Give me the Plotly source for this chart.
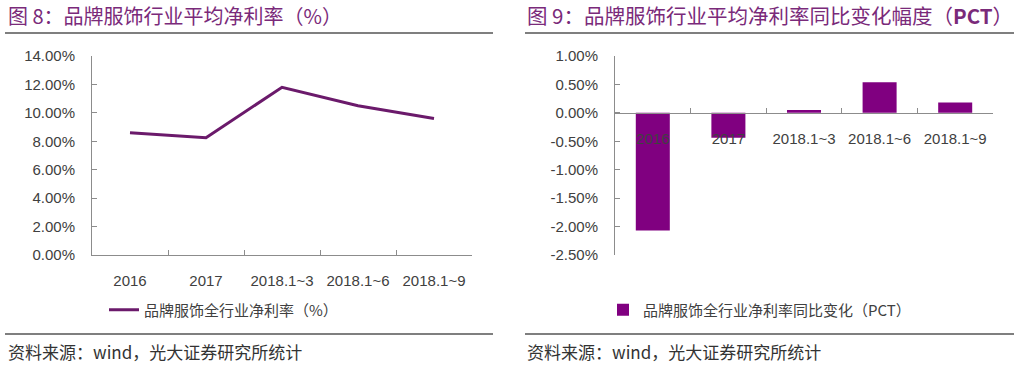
import plotly.graph_objects as go

# ---- data ----
categories = ["2016", "2017", "2018.1~3", "2018.1~6", "2018.1~9"]
net_margin = [8.6, 8.25, 11.8, 10.5, 9.6]          # 品牌服饰全行业净利率（%）
yoy_change = [-2.07, -0.44, 0.05, 0.54, 0.18]      # 同比变化（PCT）
left_ticks = [0, 2, 4, 6, 8, 10, 12, 14]
right_ticks = [-2.5, -2.0, -1.5, -1.0, -0.5, 0.0, 0.5, 1.0]

title_left = "图 8：品牌服饰行业平均净利率（%）"
title_right = "图 9：品牌服饰行业平均净利率同比变化幅度（<b>PCT</b>）"
legend_left = "品牌服饰全行业净利率（%）"
legend_right = "品牌服饰全行业净利率同比变化（PCT）"
source_text = "资料来源：wind，光大证券研究所统计"

# ---- layout helpers ----
W, H = 1024, 368
px = lambda v: v / W
py = lambda v: 1 - v / H

LINE_COLOR = "#6B1A6B"
BAR_COLOR = "#800080"
TITLE_COLOR = "#7A2A7A"
AXIS_COLOR = "#8C8C8C"
TEXT_COLOR = "#404040"
TICK_FONT = dict(family="Liberation Sans, Arial", size=15, color=TEXT_COLOR)
CJK = "Noto Sans CJK SC"

ydom = [py(255), py(56)]
rmin, rmax = right_ticks[0], right_ticks[-1]
zero_pos = ydom[0] + (0 - rmin) / (rmax - rmin) * (ydom[1] - ydom[0])
cat_range = [-0.5, len(categories) - 0.5]

fig = go.Figure()
fig.add_trace(go.Scatter(
    x=categories, y=net_margin, mode="lines", name=legend_left,
    line=dict(color=LINE_COLOR, width=3), xaxis="x", yaxis="y", legend="legend",
))
fig.add_trace(go.Bar(
    x=categories, y=yoy_change, name=legend_right, marker=dict(color=BAR_COLOR, line_width=0),
    xaxis="x2", yaxis="y2", legend="legend2",
))

axis_common = dict(showline=True, linecolor=AXIS_COLOR, linewidth=1, showgrid=False,
                   zeroline=False, ticks="inside", ticklen=5, tickcolor=AXIS_COLOR,
                   tickfont=TICK_FONT, fixedrange=True, automargin=False)

fig.update_layout(
    width=W, height=H, margin=dict(l=0, r=0, t=0, b=0, autoexpand=False),
    paper_bgcolor="white", plot_bgcolor="white",
    bargap=0.55,
    xaxis=dict(domain=[px(92), px(472)], anchor="y", tickson="boundaries",
               range=cat_range, ticklabelstandoff=12, **axis_common),
    yaxis=dict(domain=ydom, anchor="x", range=[left_ticks[0], left_ticks[-1]],
               tickvals=left_ticks, ticktext=[f"{v:.2f}%" for v in left_ticks],
               ticklabelstandoff=13, **axis_common),
    xaxis2=dict(domain=[px(615), px(993)], anchor="free", position=zero_pos,
                tickson="boundaries", range=cat_range, ticklabelstandoff=12, **axis_common),
    yaxis2=dict(domain=ydom, anchor="x2", range=[rmin, rmax],
                tickvals=right_ticks, ticktext=[f"{v:.2f}%" for v in right_ticks],
                ticklabelstandoff=13, **axis_common),
    legend=dict(x=px(104), y=py(310), xanchor="left", yanchor="middle",
                bgcolor="rgba(0,0,0,0)", font=dict(family=CJK, size=15, color=TEXT_COLOR)),
    legend2=dict(x=px(603), y=py(310), xanchor="left", yanchor="middle",
                 bgcolor="rgba(0,0,0,0)", font=dict(family=CJK, size=15, color=TEXT_COLOR)),
    showlegend=True,
)

# rules
for x0, x1 in [(5, 493), (525, 1014)]:
    for yy in (33, 334):
        fig.add_shape(type="line", xref="paper", yref="paper", x0=px(x0), x1=px(x1),
                      y0=py(yy), y1=py(yy), line=dict(color="#555555", width=1.5))

# titles and sources
for xx, txt, sz in [(6, title_left, 20), (525, title_right, 20.5)]:
    fig.add_annotation(x=px(xx), y=py(15), xref="paper", yref="paper", text=txt,
                       showarrow=False, xanchor="left", yanchor="middle",
                       font=dict(family=CJK, size=sz, color=TITLE_COLOR))
    fig.add_annotation(x=px(xx), y=py(351), xref="paper", yref="paper", text=source_text,
                       showarrow=False, xanchor="left", yanchor="middle",
                       font=dict(family=CJK, size=17, color="#333333"))

fig.write_html("out.html", config={"displayModeBar": False},
               post_script="document.body.style.margin='0';document.body.style.padding='0';")
